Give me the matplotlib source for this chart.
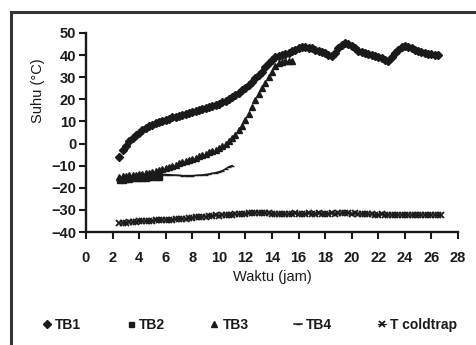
import matplotlib
matplotlib.use("Agg")
import matplotlib.pyplot as plt
from matplotlib.patches import Rectangle

plt.rcParams['font.family'] = ['Liberation Sans', 'DejaVu Sans']

# ---- data ----
TIME = [2.5, 2.75,
        3.0, 3.25, 3.5, 3.75, 4.0, 4.25, 4.5, 4.75, 5.0, 5.25, 5.5, 5.75,
        6.0, 6.25, 6.5, 6.75, 7.0, 7.25, 7.5, 7.75, 8.0, 8.25, 8.5, 8.75,
        9.0, 9.25, 9.5, 9.75, 10.0, 10.25, 10.5, 10.75, 11.0, 11.25, 11.5, 11.75,
        12.0, 12.25, 12.5, 12.75, 13.0, 13.25, 13.5, 13.75, 14.0, 14.25, 14.5, 14.75,
        15.0, 15.25, 15.5, 15.75, 16.0, 16.25, 16.5, 16.75, 17.0, 17.25, 17.5, 17.75,
        18.0, 18.25, 18.5, 18.75, 19.0, 19.25, 19.5, 19.75, 20.0, 20.25, 20.5, 20.75,
        21.0, 21.25, 21.5, 21.75, 22.0, 22.25, 22.5, 22.75, 23.0, 23.25, 23.5, 23.75,
        24.0, 24.25, 24.5, 24.75, 25.0, 25.25, 25.5, 25.75, 26.0, 26.25, 26.5, 26.75]

TB1 = [-6, -3,
       -1, 1, 2.5, 4,
       5, 6, 7, 7.8,
       8.5, 9.2, 9.8, 10.4,
       10.8, 11.3, 11.8, 12.2,
       12.6, 13, 13.4, 13.8,
       14.2, 14.6, 15, 15.5,
       16, 16.4, 16.8, 17.3,
       18, 18.7, 19.4, 20.2,
       21, 22, 23, 24,
       25.2, 26.5, 28, 29.5,
       31, 32.5, 34.5, 36.5,
       38, 39, 39.8, 40.2,
       40.5, 41, 41.8, 42.5,
       43, 43.5, 43.5, 43.2,
       43, 42.5, 42, 41.5,
       41, 40, 39.5, 41,
       43, 44.5, 45.5, 45,
       44, 43, 42, 41.5,
       41, 40.5, 40, 39.5,
       39, 38.5, 38, 37.5,
       39, 41, 42.5, 43.5,
       44, 43.5, 43, 42.5,
       42, 41.5, 41, 40.5,
       40.5, 40, 40]

TB2 = [-16.5, -16.3, -16.1, -16, -15.8, -15.7, -15.6, -15.5, -15.4, -15.3, -15.2, -15.1, -15.0]

TB3 = [-15, -14.8,
       -14.6, -14.4, -14.2, -14,
       -13.8, -13.6, -13.4, -13.2,
       -13, -12.5, -12, -11.5,
       -11, -10.5, -10, -9.5,
       -9, -8.5, -8, -7.5,
       -7, -6.4, -5.8, -5.2,
       -4.6, -4, -3.4, -2.8,
       -2, -1.2, -0.2, 1,
       2.5, 4, 6, 8,
       10.5, 13.5, 16.5, 19.5,
       22.5, 25, 27.5, 30,
       32.5, 35, 36.5, 37,
       37.5, 37.5, 37.5]

TB4 = [-15.5, -15.3,
       -15.1, -15, -14.8, -14.7,
       -14.5, -14.4, -14.3, -14.2,
       -14.1, -14, -14, -14,
       -14, -14.1, -14.2, -14.3,
       -14.4, -14.5, -14.5, -14.5,
       -14.5, -14.4, -14.3, -14.2,
       -14, -13.8, -13.5, -13.2,
       -12.8, -12.3, -11.5, -10.5,
       -10]

COLDTRAP = [-36, -36,
            -35.8, -35.6, -35.5, -35.3,
            -35.2, -35, -35, -34.8,
            -34.8, -34.6, -34.6, -34.5,
            -34.5, -34.4, -34.4, -34.3,
            -34.3, -34.2, -34, -33.8,
            -33.5, -33.3, -33.2, -33,
            -33, -32.8, -32.6, -32.5,
            -32.6, -32.4, -32.3, -32.2,
            -32.2, -32, -32, -31.8,
            -31.8, -31.6, -31.4, -31.2,
            -31.2, -31.3, -31.4, -31.6,
            -31.8, -32, -32, -31.8,
            -32, -32, -31.8, -31.6,
            -31.8, -32, -31.8, -31.6,
            -31.8, -32, -31.6, -31.8,
            -32, -31.8, -31.6, -31.8,
            -31.6, -31.5, -31.4, -31.6,
            -31.8, -31.6, -31.8, -32,
            -31.8, -31.9, -32, -32.2,
            -32.3, -32, -32.2, -32.3,
            -32.3, -32.3, -32.3, -32.3,
            -32.3, -32.3, -32.3, -32.3,
            -32.3, -32.3, -32.3, -32.3,
            -32.3, -32.3, -32.3, -32.3]

X_TICKS = list(range(0, 29, 2))
Y_TICKS = list(range(-40, 51, 10))
LABELS = ['TB1', 'TB2', 'TB3', 'TB4', 'T coldtrap']

# ---- figure ----
INK = '#1a1a1a'
fig = plt.figure(figsize=(4.76, 3.45), dpi=100)
ax = fig.add_axes([86 / 476, 1 - 232 / 345, (458 - 86) / 476, (232 - 33) / 345])

h1, = ax.plot(TIME[:len(TB1)], TB1, linestyle='none', marker='D', ms=4.3, color=INK, mec=INK)
h2, = ax.plot(TIME[:len(TB2)], TB2, linestyle='none', marker='s', ms=3.6, color=INK, mec=INK)
h3, = ax.plot(TIME[:len(TB3)], TB3, linestyle='none', marker='^', ms=4.2, color=INK, mec=INK)
h4, = ax.plot(TIME[:len(TB4)], TB4, linestyle='-', lw=1.1, marker='_', ms=3.5, color=INK, mec=INK)
h5, = ax.plot(TIME[:len(COLDTRAP)], COLDTRAP, linestyle='-', lw=0.7, marker='x', ms=3.8, mew=1.3,
              color=INK, mec=INK)

ax.set_xlim(0, 28)
ax.set_ylim(-40, 50)
ax.set_xticks(X_TICKS)
ax.set_yticks(Y_TICKS)
for s in ['top', 'right']:
    ax.spines[s].set_visible(False)
for s in ['left', 'bottom']:
    ax.spines[s].set_linewidth(1.7)
    ax.spines[s].set_color(INK)
ax.tick_params(direction='out', length=5, width=1.5, colors=INK, labelsize=10.5)
ax.tick_params(axis='x', pad=9)
ax.tick_params(axis='y', pad=2)
for lab in ax.get_xticklabels() + ax.get_yticklabels():
    lab.set_fontweight('bold')

ax.set_xlabel('Waktu (jam)', fontsize=10.5, color=INK, labelpad=3)
fig.text(38 / 476, 1 - 91 / 345, 'Suhu (°C)', rotation=90, ha='center', va='center',
         fontsize=10.5, color=INK)

leg = fig.legend([h1, h2, h3, h4, h5], LABELS, loc='center', bbox_to_anchor=(0.525, 1 - 325 / 345),
                 ncol=5, frameon=False, handlelength=0.6, handletextpad=0.3, columnspacing=3.25,
                 prop={'weight': 'bold', 'size': 10}, markerscale=1.0)
for t in leg.get_texts():
    t.set_color(INK)

# outer chart border (cut off at right and bottom)
fig.patches.append(Rectangle((11 / 476, -0.2), 1.2, 1.2 - 12 / 345, transform=fig.transFigure,
                             fill=False, lw=2.2, edgecolor='#333333', clip_on=False))

fig.savefig('out.png', dpi=100)
